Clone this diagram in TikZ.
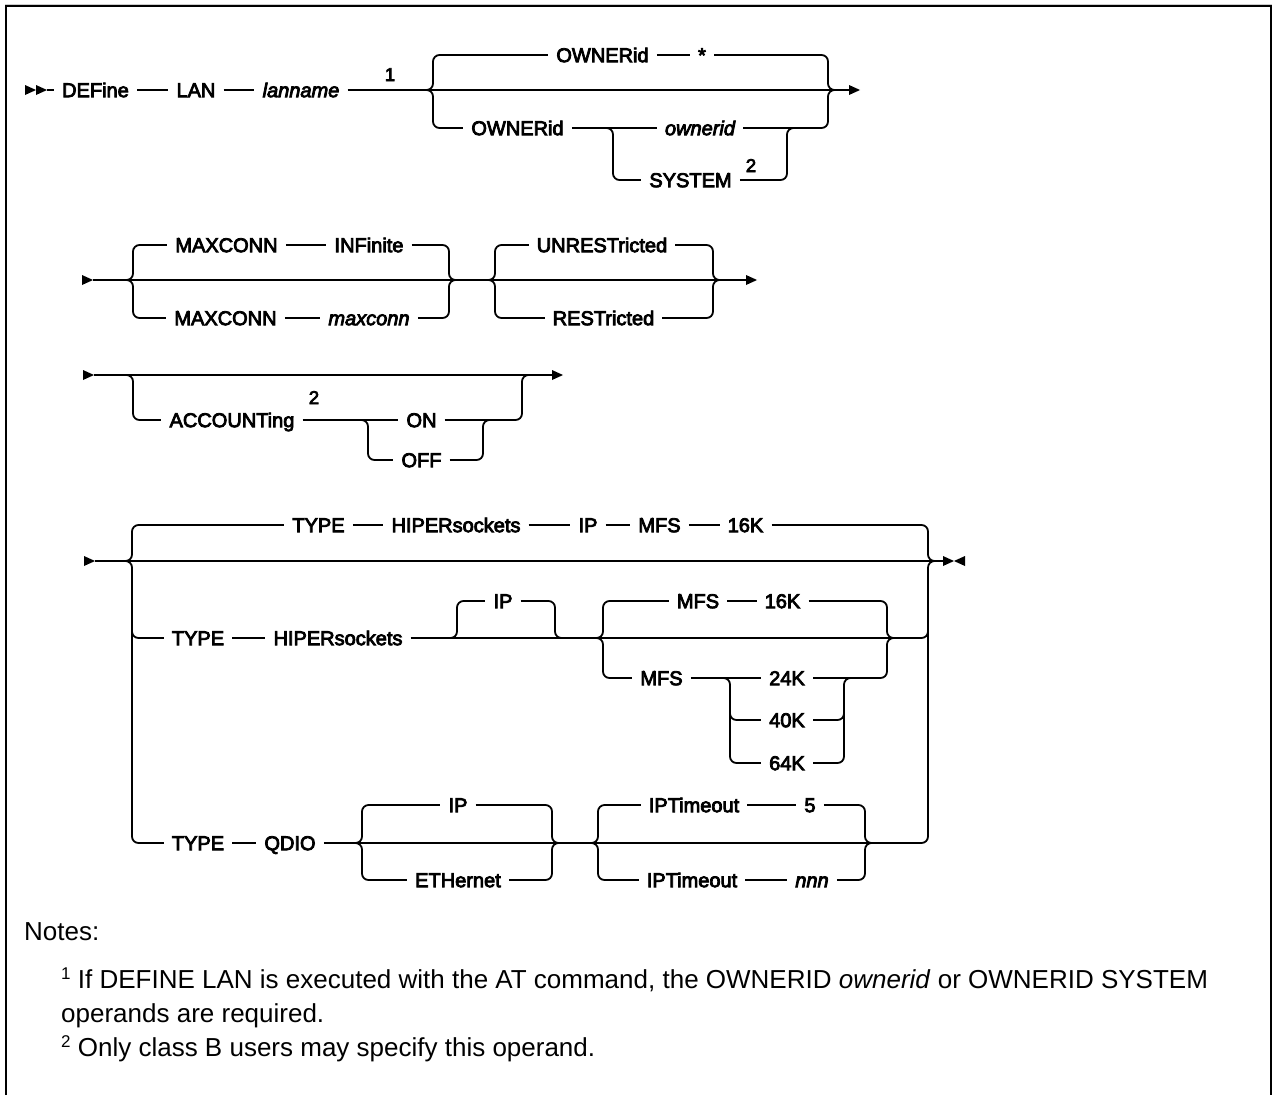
\documentclass[tikz,border=0pt]{standalone}
\usepackage{fontspec}
\setmainfont{Liberation Sans}
\newfontfamily\dfont{Liberation Sans}[FakeBold=4]
\newcommand\rrLB[4]{\draw[rc] (#1+14,#3) -- (#1,#3) -- (#1,#2) -- (#1-7,#2); \draw[rc] (#1+14,#4) -- (#1,#4) -- (#1,#2) -- (#1-7,#2);}
\newcommand\rrRB[4]{\draw[rc] (#1-14,#3) -- (#1,#3) -- (#1,#2) -- (#1+7,#2); \draw[rc] (#1-14,#4) -- (#1,#4) -- (#1,#2) -- (#1+7,#2);}
\newcommand\rrLD[3]{\draw[rc] (#1-7,#2) -- (#1,#2) -- (#1,#3) -- (#1+14,#3);}
\newcommand\rrRR[3]{\draw[rc] (#1+7,#2) -- (#1,#2) -- (#1,#3) -- (#1-14,#3);}
\begin{document}
\begin{tikzpicture}[x=1pt,y=-1pt,
 rail/.style={line width=1.8pt},
 rc/.style={rail, rounded corners=6.5pt},
 kw/.style={font={\dfont\fontsize{20pt}{24pt}\selectfont}, text height=14.3pt, text depth=0pt, inner xsep=8pt, inner ysep=0pt},
 var/.style={kw, font={\dfont\itshape\fontsize{20pt}{24pt}\selectfont}},
 supnum/.style={font={\dfont\fontsize{18.5pt}{18pt}\selectfont}, inner sep=0pt, anchor=base},
 note/.style={font={\fontsize{26pt}{31pt}\selectfont}, inner sep=0pt, anchor=base west},
 tip/.style={fill=black}
]
\fill[white] (0,0) rectangle (1273,1095);
\useasboundingbox (0,0) rectangle (1273,1095);
% frame
\draw[gray!40, line width=1pt] (5,4) -- (1272,4);
\draw[line width=2pt] (6,1095) -- (6,6) -- (1271,6) -- (1271,1095);

% ---------------- row 1 ----------------
\fill[tip] (25,85) -- (36,90) -- (25,95) -- cycle;
\fill[tip] (36,85) -- (47,90) -- (36,95) -- cycle;
\coordinate (r1s) at (47,90);
\node[kw] (define) at (95.5,90) {DEFine};
\node[kw] (lan) at (196,90) {LAN};
\node[var] (lanname) at (301,90) {lanname};
\node[supnum] (n1) at (390,81) {1};
\coordinate (r1e) at (849,90);
\draw[rail] (r1s) -- (define.west);
\draw[rail] (define.east) -- (lan.west);
\draw[rail] (lan.east) -- (lanname.west);
\draw[rail] (lanname.east) -- (r1e);
\fill[tip] (849,85) -- (860,90) -- (849,95) -- cycle;
\rrLB{433}{90}{55}{128}
\rrRB{828}{90}{55}{128}
\node[kw] (own1) at (602.5,55) {OWNERid};
\node[kw] (star) at (702,55) {*};
\draw[rail] (447,55) -- (own1.west);
\draw[rail] (own1.east) -- (star.west);
\draw[rail] (star.east) -- (814,55);
\node[kw] (own2) at (517.5,128) {OWNERid};
\node[var] (ownerid) at (700,128) {ownerid};
\draw[rail] (447,128) -- (own2.west);
\draw[rail] (own2.east) -- (ownerid.west);
\draw[rail] (ownerid.east) -- (814,128);
\rrLD{613}{128}{180}
\rrRR{787}{128}{180}
\node[kw] (system) at (690.5,180) {SYSTEM};
\node[supnum] (n2a) at (751,172) {2};
\draw[rail] (627,180) -- (system.west);
\draw[rail] (system.east) -- (773,180);

% ---------------- row 2 ----------------
\fill[tip] (82,275) -- (93,280) -- (82,285) -- cycle;
\coordinate (r2s) at (93,280);
\coordinate (r2e) at (746,280);
\draw[rail] (r2s) -- (r2e);
\fill[tip] (746,275) -- (757,280) -- (746,285) -- cycle;
\rrLB{133}{280}{245}{318}
\rrRB{449}{280}{245}{318}
\node[kw] (maxc1) at (226.5,245) {MAXCONN};
\node[kw] (inf) at (369,245) {INFinite};
\draw[rail] (147,245) -- (maxc1.west);
\draw[rail] (maxc1.east) -- (inf.west);
\draw[rail] (inf.east) -- (435,245);
\node[kw] (maxc2) at (225.5,318) {MAXCONN};
\node[var] (maxconn) at (369,318) {maxconn};
\draw[rail] (147,318) -- (maxc2.west);
\draw[rail] (maxc2.east) -- (maxconn.west);
\draw[rail] (maxconn.east) -- (435,318);
\rrLB{495}{280}{245}{318}
\rrRB{713}{280}{245}{318}
\node[kw] (unres) at (602,245) {UNRESTricted};
\node[kw] (rest) at (603.5,318) {RESTricted};
\draw[rail] (509,245) -- (unres.west);
\draw[rail] (unres.east) -- (699,245);
\draw[rail] (509,318) -- (rest.west);
\draw[rail] (rest.east) -- (699,318);

% ---------------- row 3 ----------------
\fill[tip] (83,370) -- (94,375) -- (83,380) -- cycle;
\coordinate (r3s) at (94,375);
\coordinate (r3e) at (552,375);
\draw[rail] (r3s) -- (r3e);
\fill[tip] (552,370) -- (563,375) -- (552,380) -- cycle;
\rrLD{133}{375}{420}
\rrRR{522}{375}{420}
\node[kw] (acct) at (232,420) {ACCOUNTing};
\node[supnum] (n2b) at (314,404) {2};
\node[kw] (on) at (421.5,420) {ON};
\node[kw] (off) at (421.5,460) {OFF};
\draw[rail] (147,420) -- (acct.west);
\draw[rail] (acct.east) -- (on.west);
\draw[rail] (on.east) -- (508,420);
\rrLD{368}{420}{460}
\rrRR{483}{420}{460}
\draw[rail] (382,460) -- (off.west);
\draw[rail] (off.east) -- (469,460);

% ---------------- row 4 ----------------
\fill[tip] (84,556) -- (95,561) -- (84,566) -- cycle;
\coordinate (r4s) at (95,561);
\coordinate (r4e) at (943,561);
\draw[rail] (r4s) -- (r4e);
\fill[tip] (943,556) -- (954,561) -- (943,566) -- cycle;
\fill[tip] (965,556) -- (954,561) -- (965,566) -- cycle;
\rrLB{132}{561}{525}{843}
\rrRB{928}{561}{525}{843}
\draw[rc] (132,620) -- (132,638) -- (146,638);
\draw[rc] (928,620) -- (928,638) -- (914,638);
% default branch
\node[kw] (type1) at (318.5,525) {TYPE};
\node[kw] (hip1) at (456,525) {HIPERsockets};
\node[kw] (ip1) at (588,525) {IP};
\node[kw] (mfs1) at (659.5,525) {MFS};
\node[kw] (k16a) at (745.5,525) {16K};
\draw[rail] (146,525) -- (type1.west);
\draw[rail] (type1.east) -- (hip1.west);
\draw[rail] (hip1.east) -- (ip1.west);
\draw[rail] (ip1.east) -- (mfs1.west);
\draw[rail] (mfs1.east) -- (k16a.west);
\draw[rail] (k16a.east) -- (914,525);
% hipersockets branch
\node[kw] (type2) at (198,638) {TYPE};
\node[kw] (hip2) at (338,638) {HIPERsockets};
\draw[rail] (146,638) -- (type2.west);
\draw[rail] (type2.east) -- (hip2.west);
\draw[rail] (hip2.east) -- (914,638);
\rrLD{457}{638}{601}
\rrRR{555}{638}{601}
\node[kw] (ip2) at (503,601) {IP};
\draw[rail] (471,601) -- (ip2.west);
\draw[rail] (ip2.east) -- (541,601);
\rrLB{603}{638}{601}{678}
\rrRB{887}{638}{601}{678}
\node[kw] (mfs2) at (698,601) {MFS};
\node[kw] (k16b) at (782.5,601) {16K};
\draw[rail] (617,601) -- (mfs2.west);
\draw[rail] (mfs2.east) -- (k16b.west);
\draw[rail] (k16b.east) -- (873,601);
\node[kw] (mfs3) at (661.5,678) {MFS};
\node[kw] (k24) at (787,678) {24K};
\node[kw] (k40) at (787,720) {40K};
\node[kw] (k64) at (787,763) {64K};
\draw[rail] (617,678) -- (mfs3.west);
\draw[rail] (mfs3.east) -- (k24.west);
\draw[rail] (k24.east) -- (873,678);
\rrLD{730}{678}{763}
\rrRR{844}{678}{763}
\draw[rc] (730,704) -- (730,720) -- (744,720);
\draw[rc] (844,704) -- (844,720) -- (830,720);
\draw[rail] (744,720) -- (k40.west);
\draw[rail] (k40.east) -- (830,720);
\draw[rail] (744,763) -- (k64.west);
\draw[rail] (k64.east) -- (830,763);
% qdio branch
\node[kw] (type3) at (198,843) {TYPE};
\node[kw] (qdio) at (290,843) {QDIO};
\draw[rail] (146,843) -- (type3.west);
\draw[rail] (type3.east) -- (qdio.west);
\draw[rail] (qdio.east) -- (914,843);
\rrLB{362}{843}{805}{880}
\rrRB{552}{843}{805}{880}
\node[kw] (ip3) at (458,805) {IP};
\node[kw] (eth) at (458,880) {ETHernet};
\draw[rail] (376,805) -- (ip3.west);
\draw[rail] (ip3.east) -- (538,805);
\draw[rail] (376,880) -- (eth.west);
\draw[rail] (eth.east) -- (538,880);
\rrLB{598}{843}{805}{880}
\rrRB{865}{843}{805}{880}
\node[kw] (ipt1) at (694,805) {IPTimeout};
\node[kw] (five) at (810,805) {5};
\node[kw] (ipt2) at (692,880) {IPTimeout};
\node[var] (nnn) at (812,880) {nnn};
\draw[rail] (612,805) -- (ipt1.west);
\draw[rail] (ipt1.east) -- (five.west);
\draw[rail] (five.east) -- (851,805);
\draw[rail] (612,880) -- (ipt2.west);
\draw[rail] (ipt2.east) -- (nnn.west);
\draw[rail] (nnn.east) -- (851,880);

% ---------------- notes ----------------
\node[note] (notes) at (24,940) {Notes:};
\node[note] (note1) at (61,988) {\raisebox{9pt}{\fontsize{17pt}{17pt}\selectfont 1} If DEFINE LAN is executed with the AT command, the OWNERID \textit{ownerid} or OWNERID SYSTEM};
\node[note] (note1b) at (61,1022) {operands are required.};
\node[note] (note2) at (61,1056) {\raisebox{9pt}{\fontsize{17pt}{17pt}\selectfont 2} Only class B users may specify this operand.};
\end{tikzpicture}
\end{document}
